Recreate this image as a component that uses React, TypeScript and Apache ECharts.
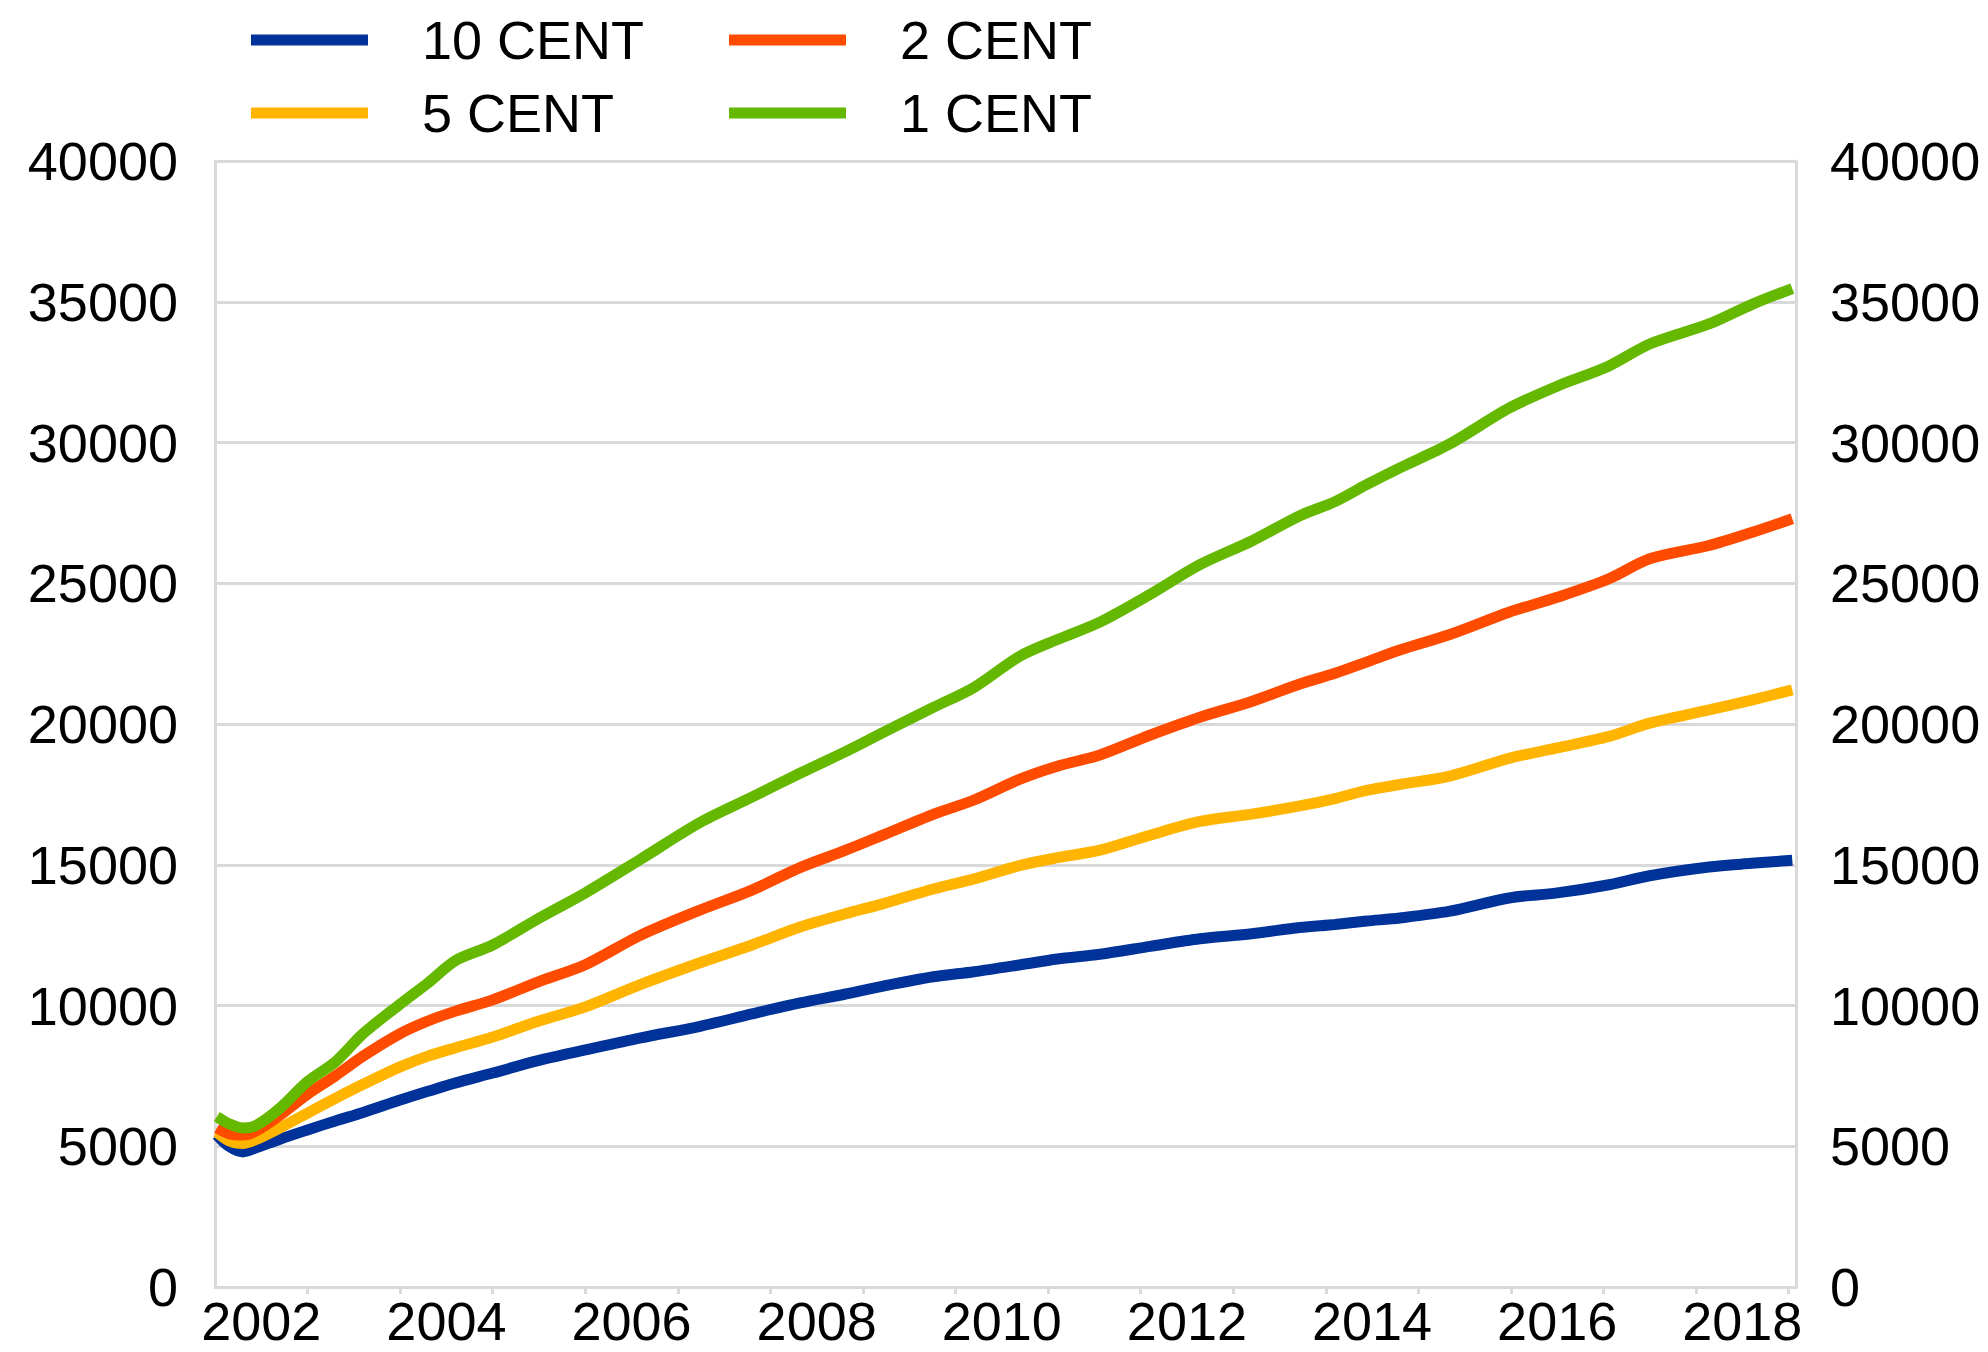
import React, { useEffect, useRef } from "react";
import * as echarts from "echarts";

const dates = [
  2002.02, 2002.15, 2002.3, 2002.45, 2002.7, 2003.0, 2003.3, 2003.6, 2004.0, 2004.3,
  2004.6, 2005.0, 2005.5, 2006.0, 2006.6, 2007.24, 2007.8, 2008.32, 2008.8, 2009.22,
  2009.76, 2010.2, 2010.69, 2011.1, 2011.56, 2012.1, 2012.64, 2013.2, 2013.72, 2014.1,
  2014.44, 2014.8, 2015.34, 2015.98, 2016.5, 2017.06, 2017.5, 2018.14, 2018.6, 2019.04,
];

const cent10 = [
  5400, 5000, 4800, 4950, 5250, 5580, 5900, 6200, 6640, 6950,
  7250, 7600, 8050, 8420, 8850, 9260, 9700, 10090, 10400, 10690,
  11020, 11200, 11440, 11650, 11820, 12100, 12370, 12550, 12770, 12880,
  13000, 13110, 13350, 13820, 14000, 14290, 14610, 14920, 15050, 15160,
];

const cent5 = [
  5500, 5200, 5100, 5250, 5650, 6180, 6700, 7200, 7820, 8200,
  8500, 8880, 9450, 9950, 10750, 11520, 12150, 12790, 13250, 13620,
  14140, 14500, 14970, 15250, 15520, 16050, 16540, 16800, 17090, 17350,
  17640, 17850, 18150, 18780, 19150, 19560, 20030, 20500, 20850, 21210,
];

const cent2 = [
  5650, 5450, 5400, 5550, 6100, 6850, 7500, 8200, 9000, 9450,
  9800, 10200, 10850, 11450, 12500, 13390, 14100, 14900, 15500, 16060,
  16790, 17300, 18030, 18500, 18900, 19600, 20240, 20800, 21420, 21800,
  22200, 22630, 23180, 23970, 24500, 25160, 25870, 26340, 26800, 27290,
];

const cent1 = [
  6050, 5800, 5650, 5750, 6350, 7300, 8000, 9000, 10050, 10800,
  11600, 12150, 13100, 14000, 15200, 16500, 17400, 18250, 19000, 19700,
  20590, 21300, 22400, 23000, 23620, 24600, 25660, 26500, 27400, 27900,
  28500, 29100, 29950, 31220, 32000, 32720, 33500, 34210, 34900, 35470,
];

const seriesNames = ["10 CENT", "5 CENT", "2 CENT", "1 CENT"];
const seriesColors = ["#003299", "#FFB400", "#FF4B00", "#65B800"];
const seriesValues = [cent10, cent5, cent2, cent1];

const yearTicks = [2003, 2004, 2005, 2006, 2007, 2008, 2009, 2010, 2011, 2012, 2013, 2014, 2015, 2016, 2017, 2018, 2019];
const yearLabels = [2002.5, 2004.5, 2006.5, 2008.5, 2010.5, 2012.5, 2014.5, 2016.5, 2018.5];

const FONT = "Liberation Sans, Arial, sans-serif";
const GRID_COLOR = "#d9d9d9";
const FS = 54;

export default function App() {
  const ref = useRef<HTMLDivElement>(null);

  useEffect(() => {
    if (!ref.current) return;
    const chart = echarts.init(ref.current, null, { renderer: "svg" });

    const legendPos = [
      { name: "10 CENT", left: 246, top: 8 },
      { name: "2 CENT", left: 724, top: 8 },
      { name: "5 CENT", left: 246, top: 81 },
      { name: "1 CENT", left: 724, top: 81 },
    ];

    const option: any = {
      animation: false,
      backgroundColor: "#ffffff",
      legend: legendPos.map((l) => ({
        data: [l.name],
        left: l.left,
        top: l.top,
        icon: "rect",
        itemWidth: 117,
        itemHeight: 11,
        selectedMode: false,
        textStyle: {
          fontSize: FS,
          lineHeight: 50,
          fontFamily: FONT,
          color: "#000",
          padding: [0, 0, 0, 49],
        },
      })),
      grid: { left: 215, top: 161, right: 192, bottom: 65, containLabel: false },
      xAxis: {
        type: "value",
        min: 2002,
        max: 2019.08,
        axisLine: { show: true, lineStyle: { color: GRID_COLOR, width: 3 } },
        axisTick: {
          show: true,
          customValues: yearTicks,
          length: 7,
          lineStyle: { color: GRID_COLOR, width: 3 },
        },
        axisLabel: {
          customValues: yearLabels,
          formatter: (v: number) => String(Math.floor(v)),
          fontSize: FS,
          lineHeight: 48,
          fontFamily: FONT,
          color: "#000",
          margin: 10,
        },
        splitLine: { show: false },
      },
      yAxis: [
        {
          type: "value",
          position: "left",
          min: 0,
          max: 40000,
          interval: 5000,
          axisLine: { show: true, lineStyle: { color: GRID_COLOR, width: 3 } },
          axisTick: { show: false },
          axisLabel: {
            fontSize: FS,
            fontFamily: FONT,
            color: "#000",
            margin: 37,
            formatter: (v: number) => String(v),
          },
          splitLine: { show: true, lineStyle: { color: GRID_COLOR, width: 3 } },
        },
        {
          type: "value",
          position: "right",
          min: 0,
          max: 40000,
          interval: 5000,
          axisLine: { show: true, lineStyle: { color: GRID_COLOR, width: 3 } },
          axisTick: { show: false },
          axisLabel: {
            fontSize: FS,
            fontFamily: FONT,
            color: "#000",
            margin: 34,
            formatter: (v: number) => String(v),
          },
          splitLine: { show: false },
        },
      ],
      series: seriesNames.map((name, i) => ({
        name,
        type: "line",
        yAxisIndex: 0,
        data: dates.map((d, j) => [d, seriesValues[i][j]]),
        showSymbol: false,
        symbol: "none",
        smooth: 0.3,
        color: seriesColors[i],
        lineStyle: { color: seriesColors[i], width: 11 },
        z: 2 + i,
      })),
    };

    chart.setOption(option);
    return () => chart.dispose();
  }, []);

  return (
    <div
      ref={ref}
      style={{ position: "fixed", left: 0, top: 0, width: 1988, height: 1352, background: "#fff" }}
    />
  );
}
